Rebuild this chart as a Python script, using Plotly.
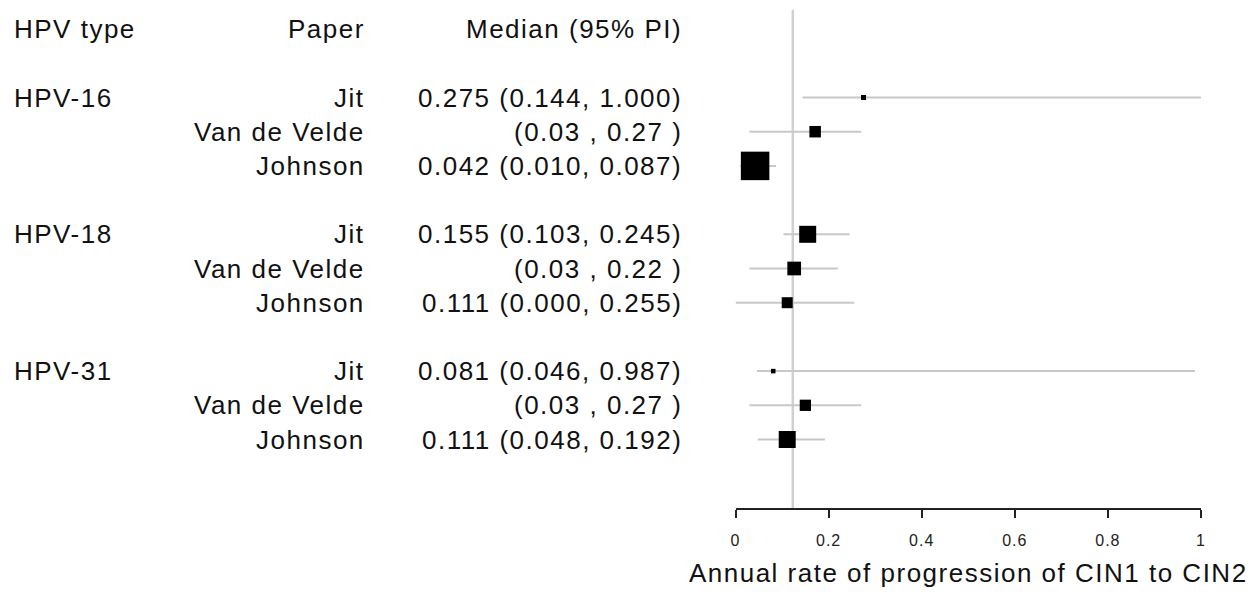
import plotly.graph_objects as go

# ---- data ----
hpv_types = ["HPV-16", "HPV-18", "HPV-31"]
papers = ["Jit", "Van de Velde", "Johnson",
          "Jit", "Van de Velde", "Johnson",
          "Jit", "Van de Velde", "Johnson"]
estimates = [0.275, 0.171, 0.042, 0.155, 0.126, 0.111, 0.081, 0.150, 0.111]
lower = [0.144, 0.03, 0.010, 0.103, 0.03, 0.000, 0.046, 0.03, 0.048]
upper = [1.000, 0.27, 0.087, 0.245, 0.22, 0.255, 0.987, 0.27, 0.192]
labels = ["0.275 (0.144, 1.000)", "(0.03 , 0.27 )", "0.042 (0.010, 0.087)",
          "0.155 (0.103, 0.245)", "(0.03 , 0.22 )", "0.111 (0.000, 0.255)",
          "0.081 (0.046, 0.987)", "(0.03 , 0.27 )", "0.111 (0.048, 0.192)"]
weights = [5, 11.5, 28.5, 17, 13.7, 11, 4.5, 11.3, 17]   # marker sizes
rows = [0, 1, 2, 4, 5, 6, 8, 9, 10]
group_rows = [0, 4, 8]
header_row = -2
headers = ["HPV type", "Paper", "Median (95% PI)"]
reference = 0.123
tick_vals = [0, 0.2, 0.4, 0.6, 0.8, 1]
tick_labels = ["0", "0.2", "0.4", "0.6", "0.8", "1"]
x_title = "Annual rate of progression of CIN1 to CIN2"

# ---- layout constants (page body has an 8px margin) ----
OFF = 8
W, H = 1254 - OFF, 592 - OFF
FONT = "Liberation Sans, Arial, sans-serif"
TXT = "#111111"
FS = 26
LS = 1.5
row_px = 34.2
row0_px = 97.5 - OFF
axis_row = 12
top_row = -row0_px / row_px
axis_px = row0_px + axis_row * row_px


def sp(s, px=LS):
    return f'<span style="letter-spacing:{px}px">{s}</span>'


fig = go.Figure()

# confidence-interval segments
ci_x, ci_y = [], []
for lo, hi, r in zip(lower, upper, rows):
    ci_x += [lo, hi, None]
    ci_y += [r, r, None]
fig.add_trace(go.Scatter(x=ci_x, y=ci_y, mode="lines",
                         line=dict(color="#c8c8c8", width=2),
                         cliponaxis=False, showlegend=False, hoverinfo="skip"))

fig.add_trace(go.Scatter(
    x=estimates, y=rows, mode="markers",
    marker=dict(symbol="square", size=weights, color="#000000", opacity=1,
                line=dict(width=0)),
    cliponaxis=False, showlegend=False, hoverinfo="skip"))

fig.add_shape(type="line", xref="x", yref="y", x0=reference, x1=reference,
              y0=top_row + 0.05, y1=axis_row,
              line=dict(color="#d0d0d0", width=2.5), layer="below")

ann = []
col_x = [-1 / W, (365 - OFF) / W, (684 - OFF) / W]
for h, cx, an in zip(headers, col_x, ["left", "right", "right"]):
    ann.append(dict(text=sp(h), x=cx, y=header_row, xref="paper", yref="y",
                    xanchor=an, yanchor="middle", showarrow=False))
for t, r in zip(hpv_types, group_rows):
    ann.append(dict(text=sp(t), x=col_x[0], y=r, xref="paper", yref="y",
                    xanchor="left", yanchor="middle", showarrow=False))
for p, lab, r in zip(papers, labels, rows):
    ann.append(dict(text=sp(p), x=col_x[1], y=r, xref="paper", yref="y",
                    xanchor="right", yanchor="middle", showarrow=False))
    ann.append(dict(text=sp(lab), x=col_x[2], y=r, xref="paper", yref="y",
                    xanchor="right", yanchor="middle", showarrow=False))

fig.update_layout(
    width=W, height=H, margin=dict(l=0, r=0, t=0, b=0),
    paper_bgcolor="white", plot_bgcolor="white",
    font=dict(family=FONT, size=FS, color=TXT),
    annotations=ann,
    xaxis=dict(domain=[(736.4 - OFF) / W, (1205.6 - OFF) / W], range=[0, 1],
               showgrid=False, zeroline=False,
               showline=True, linecolor="#222", linewidth=2,
               ticks="outside", ticklen=8, tickwidth=2, tickcolor="#222",
               tickvals=tick_vals, ticktext=[sp(t, 1) for t in tick_labels],
               tickfont=dict(size=16, color="#222"), ticklabelstandoff=9,
               title=dict(text=sp(x_title), font=dict(size=FS, color=TXT), standoff=16)),
    yaxis=dict(domain=[(H - axis_px) / H, 1], range=[axis_row, top_row],
               visible=False, showgrid=False, zeroline=False),
)

fig.write_html("out.html")
